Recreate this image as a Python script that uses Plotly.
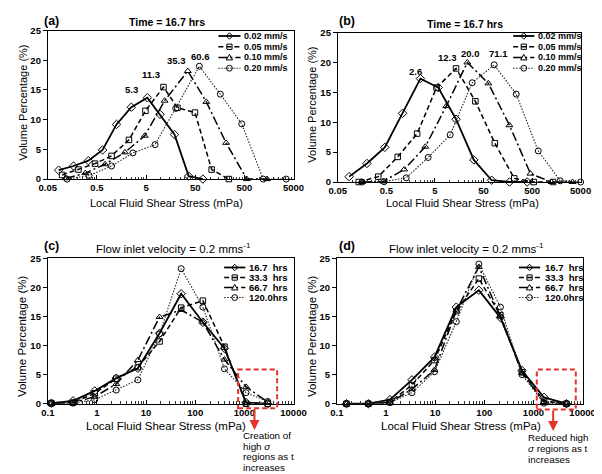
import math
import plotly.graph_objects as go

W, H = 602, 474
FONT = "Liberation Sans, Arial, sans-serif"

# ---------------- data ----------------
# (a) Time = 16.7 hrs, different inlet velocities
a_names = ["0.02 mm/s", "0.05 mm/s", "0.10 mm/s", "0.20 mm/s"]
a_x_002 = [0.083, 0.167, 0.334, 0.65, 1.25, 2.5, 5.3, 9.6, 18.9, 36.8, 71.5]
a_y_002 = [1.5, 2.2, 3.1, 4.9, 9.2, 12.1, 13.7, 10.9, 7.5, 0.5, 0.0]
a_x_005 = [0.0975, 0.21, 0.456, 0.99, 2.24, 4.85, 11.3, 21.7, 49.3, 108, 242]
a_y_005 = [0.7, 1.6, 2.6, 3.9, 6.6, 11.5, 15.5, 12.0, 11.2, 1.6, 0.0]
a_x_010 = [0.117, 0.29, 0.73, 1.85, 4.7, 11.9, 35.3, 84, 212, 560, 1450]
a_y_010 = [0.15, 1.0, 2.5, 4.5, 7.3, 13.2, 18.2, 13.0, 6.1, 0.0, 0.0]
a_x_020 = [0.123, 0.346, 0.99, 2.69, 7.6, 20.1, 60.6, 162, 442, 1208, 3556]
a_y_020 = [0.0, 0.6, 2.2, 4.4, 5.8, 11.9, 19.0, 14.3, 9.3, 0.0, 0.0]
a_peak_labels = ["5.3", "11.3", "35.3", "60.6"]

# (b) Time = 16.7 hrs
b_names = ["0.02 mm/s", "0.05 mm/s", "0.10 mm/s", "0.20 mm/s"]
b_x_002 = [0.0855, 0.199, 0.463, 1.08, 2.51, 5.84, 13.6, 31.6, 73.5, 171, 397]
b_y_002 = [0.9, 3.1, 5.8, 11.5, 17.3, 15.8, 10.5, 3.7, 0.3, 0.0, 0.0]
b_x_005 = [0.135, 0.34, 0.855, 2.15, 5.4, 13.6, 34, 85.5, 215, 540, 1355]
b_y_005 = [0.0, 0.9, 4.2, 8.1, 15.8, 19.0, 13.5, 6.5, 0.6, 0.0, 0.0]
b_x_010 = [0.158, 0.43, 1.16, 3.16, 8.56, 23.2, 63, 171, 463, 1256, 3400]
b_y_010 = [0.0, 0.1, 2.1, 5.9, 12.7, 20.0, 16.5, 9.5, 1.4, 0.0, 0.0]
b_x_020 = [0.158, 0.449, 1.28, 3.62, 10.3, 29.2, 83, 236, 670, 1900, 5000]
b_y_020 = [0.0, 0.05, 0.7, 4.1, 7.9, 16.6, 19.6, 14.7, 5.2, 0.2, 0.0]
b_peak_labels = ["2.6", "12.3", "20.0", "71.1"]

# (c) Flow inlet velocity = 0.2 mm/s, different times
c_names = ["16.7  hrs", "33.3  hrs", "66.7  hrs", "120.0hrs"]
c_x = [0.118, 0.326, 0.90, 2.47, 6.8, 18.8, 51.7, 143, 393, 1083, 2980]
c_y_167 = [0.1, 0.5, 2.2, 4.4, 6.1, 12.1, 18.9, 14.0, 9.5, 0.2, 0.0]
c_y_333 = [0.1, 0.2, 1.8, 4.3, 6.3, 10.7, 16.5, 17.7, 9.8, 0.0, 0.0]
c_y_667 = [0.0, 0.2, 1.2, 3.4, 7.5, 14.9, 16.1, 14.0, 7.6, 2.9, 0.3]
c_y_1200 = [0.0, 0.1, 0.7, 2.35, 4.1, 12.0, 23.2, 16.6, 6.0, 1.9, 0.4]

# (d)
d_names = ["16.7  hrs", "33.3  hrs", "66.7  hrs", "120.0hrs"]
d_x = [0.157, 0.438, 1.205, 3.37, 9.7, 27, 77.6, 213, 586, 1637, 4700]
d_y_167 = [0.0, 0.0, 0.7, 4.1, 8.0, 16.6, 19.5, 14.8, 5.7, 1.1, 0.0]
d_y_333 = [0.0, 0.0, 0.3, 3.2, 7.5, 15.9, 21.5, 15.2, 5.4, 0.5, 0.0]
d_y_667 = [0.0, 0.0, 0.2, 2.5, 5.8, 16.0, 23.5, 15.0, 5.3, 0.3, 0.0]
d_y_1200 = [0.0, 0.0, 0.2, 1.9, 5.5, 14.1, 24.0, 16.6, 5.0, 0.1, 0.0]

top_ticks = [0.05, 0.5, 5, 50, 500, 5000]
top_ticktext = ["0.05", "0.5", "5", "50", "500", "5000"]
bot_ticks = [0.1, 1, 10, 100, 1000, 10000]
bot_ticktext = ["0.1", "1", "10", "100", "1000", "10000"]
y_ticks = [0, 5, 10, 15, 20, 25]

top_title = "Time = 16.7 hrs"
bot_title = "Flow inlet velocity = 0.2 mms<sup>-1</sup>"
x_title = "Local Fluid Shear Stress (mPa)"
y_title = "Volume Percentage (%)"
c_note = ["Creation of", "high <i>σ</i>", "regions as t", "increases"]
d_note = ["Reduced high", "<i>σ</i> regions as t", "increases"]

# ---------------- helpers ----------------
def px(x):
    return x / W

def py(y):
    return 1 - y / H

styles = [
    dict(dash="solid", width=1.8, symbol="diamond-open", size=6.5, color="black"),
    dict(dash="5px,3px", width=1.5, symbol="square-open", size=5.5, color="black"),
    dict(dash="9px,3px,2px,3px", width=1.5, symbol="triangle-up-open", size=6, color="black"),
    dict(dash="1.5px,1.5px", width=1.1, symbol="circle-open", size=6, color="#222"),
]

fig = go.Figure()
shapes = []
annotations = []

panels = [
    dict(ax="", xs=[a_x_002, a_x_005, a_x_010, a_x_020], ys=[a_y_002, a_y_005, a_y_010, a_y_020],
         names=a_names, xdom=[32 / W, 287 / W], ydom=[py(169), py(17)],
         ticks=top_ticks, ticktext=top_ticktext),
    dict(ax="2", xs=[b_x_002, b_x_005, b_x_010, b_x_020], ys=[b_y_002, b_y_005, b_y_010, b_y_020],
         names=b_names, xdom=[333 / W, 585 / W], ydom=[py(172), py(19)],
         ticks=top_ticks, ticktext=top_ticktext),
    dict(ax="3", xs=[c_x] * 4, ys=[c_y_167, c_y_333, c_y_667, c_y_1200],
         names=c_names, xdom=[32 / W, 287 / W], ydom=[py(399), py(250)],
         ticks=bot_ticks, ticktext=bot_ticktext),
    dict(ax="4", xs=[d_x] * 4, ys=[d_y_167, d_y_333, d_y_667, d_y_1200],
         names=d_names, xdom=[332 / W, 587 / W], ydom=[py(399), py(250)],
         ticks=bot_ticks, ticktext=bot_ticktext),
]

layout_axes = {}
for p in panels:
    sfx = p["ax"]
    for xs, ys, name, st in zip(p["xs"], p["ys"], p["names"], styles):
        fig.add_trace(go.Scatter(
            x=xs, y=ys, name=name, mode="lines+markers", showlegend=False,
            xaxis="x" + sfx, yaxis="y" + sfx, cliponaxis=False,
            line=dict(color=st["color"], width=st["width"], dash=st["dash"]),
            marker=dict(symbol=st["symbol"], size=st["size"], color="black",
                        line=dict(width=1, color="black")),
        ))
    t = p["ticks"]
    minor_vals = [k * b for b in t[:-1] for k in range(2, 10)]
    layout_axes["xaxis" + sfx] = dict(
        type="log", domain=p["xdom"], range=[math.log10(t[0]), math.log10(t[-1])],
        tickmode="array", tickvals=t, ticktext=p["ticktext"],
        ticks="inside", ticklen=4, tickcolor="black",
        minor=dict(tickmode="array", tickvals=minor_vals, ticks="inside", ticklen=2.5,
                   tickcolor="#333"),
        showline=True, linecolor="black", linewidth=1, mirror=True,
        showgrid=False, zeroline=False, anchor="y" + sfx,
        tickfont=dict(family=FONT, size=9.5, color="black", weight="bold"),
    )
    layout_axes["yaxis" + sfx] = dict(
        domain=p["ydom"], range=[0, 25], tickmode="array", tickvals=y_ticks,
        ticks="outside", ticklen=4, tickcolor="black",
        showline=True, linecolor="black", linewidth=1, mirror=True,
        showgrid=False, zeroline=False, anchor="x" + sfx,
        tickfont=dict(family=FONT, size=9.5, color="black", weight="bold"),
    )

# ---------------- peak labels ----------------
def peak_labels(xs_list, ys_list, labels, shifts, sfx):
    for xs, ys, lab, (dx, dy) in zip(xs_list, ys_list, labels, shifts):
        i = ys.index(max(ys))
        annotations.append(dict(
            x=math.log10(xs[i]), y=ys[i], xref="x" + sfx, yref="y" + sfx,
            text=lab, showarrow=False, xshift=dx, yshift=dy,
            font=dict(family=FONT, size=9.5, color="black", weight="bold"),
        ))

peak_labels(panels[0]["xs"], panels[0]["ys"], a_peak_labels,
            [(-16, 8), (-13, 13), (-11, 10), (1.5, 10)], "")
peak_labels(panels[1]["xs"], panels[1]["ys"], b_peak_labels,
            [(-5, 7), (-9, 11), (3, 9), (4, 11)], "2")

# ---------------- legends (drawn) ----------------
def legend_block(x0, x1, xt, rows, names, fsize):
    cx = (x0 + x1) / 2
    for yy, name, st in zip(rows, names, styles):
        shapes.append(dict(type="line", xref="paper", yref="paper",
                           x0=px(x0), x1=px(x1), y0=py(yy), y1=py(yy),
                           line=dict(color=st["color"], width=st["width"], dash=st["dash"])))
        mk = dict(color="black", width=1)
        sym = st["symbol"]
        if sym.startswith("diamond"):
            r = 3.3
            path = "M {} {} L {} {} L {} {} L {} {} Z".format(
                px(cx), py(yy - r), px(cx + r), py(yy), px(cx), py(yy + r), px(cx - r), py(yy))
            shapes.append(dict(type="path", xref="paper", yref="paper", path=path, line=mk))
        elif sym.startswith("square"):
            r = 2.7
            shapes.append(dict(type="rect", xref="paper", yref="paper",
                               x0=px(cx - r), x1=px(cx + r), y0=py(yy + r), y1=py(yy - r), line=mk))
        elif sym.startswith("triangle"):
            path = "M {} {} L {} {} L {} {} Z".format(
                px(cx), py(yy - 3.2), px(cx + 3.3), py(yy + 2.5), px(cx - 3.3), py(yy + 2.5))
            shapes.append(dict(type="path", xref="paper", yref="paper", path=path, line=mk))
        else:
            r = 3
            shapes.append(dict(type="circle", xref="paper", yref="paper",
                               x0=px(cx - r), x1=px(cx + r), y0=py(yy + r), y1=py(yy - r), line=mk))
        annotations.append(dict(
            x=px(xt), y=py(yy), xref="paper", yref="paper", xanchor="left", yanchor="middle",
            text=name.replace(" ", "\u00a0"), showarrow=False,
            font=dict(family=FONT, size=fsize, color="black", weight="bold"),
        ))

legend_block(209, 232, 234, [22.5, 33.5, 44.5, 55.5], a_names, 9)
legend_block(515, 537, 539, [22.5, 33.5, 44.5, 55.5], b_names, 9)
legend_block(215, 237, 239, [259.5, 269.8, 280, 290.3], c_names, 9.5)
legend_block(521, 543, 546, [259.5, 269.8, 280, 290.3], d_names, 9.5)

# ---------------- titles ----------------
def text(x, y, s, size, bold=False, angle=0, anchor="center"):
    annotations.append(dict(
        x=px(x), y=py(y), xref="paper", yref="paper", xanchor=anchor, yanchor="middle",
        text=s, showarrow=False, textangle=angle,
        font=dict(family=FONT, size=size, color="black", weight="bold" if bold else "normal"),
    ))

text(36, 7.5, "(a)", 12.5, True)
text(343, 7.5, "(b)", 12.5, True)
text(36, 238, "(c)", 12.5, True)
text(342, 238, "(d)", 12.5, True)
text(156, 8.5, top_title, 10.5, True)
text(465, 10.5, top_title, 10.5, True)
text(162, 240, bot_title, 11.5)
text(467, 240, bot_title, 11.5)
text(155, 193, x_title, 11)
text(462, 193, x_title, 11)
text(155, 422, x_title, 11.5)
text(461, 422, x_title, 11.5)
text(6, 91, y_title, 11, angle=-90)
text(306, 93, y_title, 11, angle=-90)
text(6, 330, y_title, 11.5, angle=-90)
text(307, 330, y_title, 11.5, angle=-90)

# ---------------- red boxes, arrows and notes ----------------
RED = "#E5332A"
for (bx0, bx1, by0, by1, ax_x, ay0, ay1) in [(229.5, 270, 364, 403.5, 246.5, 403.5, 426),
                                             (539.5, 580, 364, 405, 556.5, 405, 427)]:
    shapes.append(dict(type="rect", xref="paper", yref="paper",
                       x0=px(bx0), x1=px(bx1), y0=py(by1), y1=py(by0),
                       line=dict(color=RED, width=2, dash="5px,3px")))
    annotations.append(dict(x=px(ax_x), y=py(ay1), xref="paper", yref="paper",
                            ax=0, ay=-(ay1 - ay0), text="", showarrow=True,
                            arrowhead=2, arrowsize=1, arrowwidth=2, arrowcolor=RED))

for i, line in enumerate(c_note):
    text(232, 432 + 10.6 * i, line, 9.8, anchor="left")
for i, line in enumerate(d_note):
    text(528, 434 + 10.8 * i, line, 9.8, anchor="left")

fig.update_layout(
    width=W, height=H, margin=dict(l=0, r=0, t=0, b=0),
    paper_bgcolor="white", plot_bgcolor="white",
    showlegend=False, shapes=shapes, annotations=annotations,
    font=dict(family=FONT, color="black"),
    **layout_axes,
)

fig.write_html("out.html")
